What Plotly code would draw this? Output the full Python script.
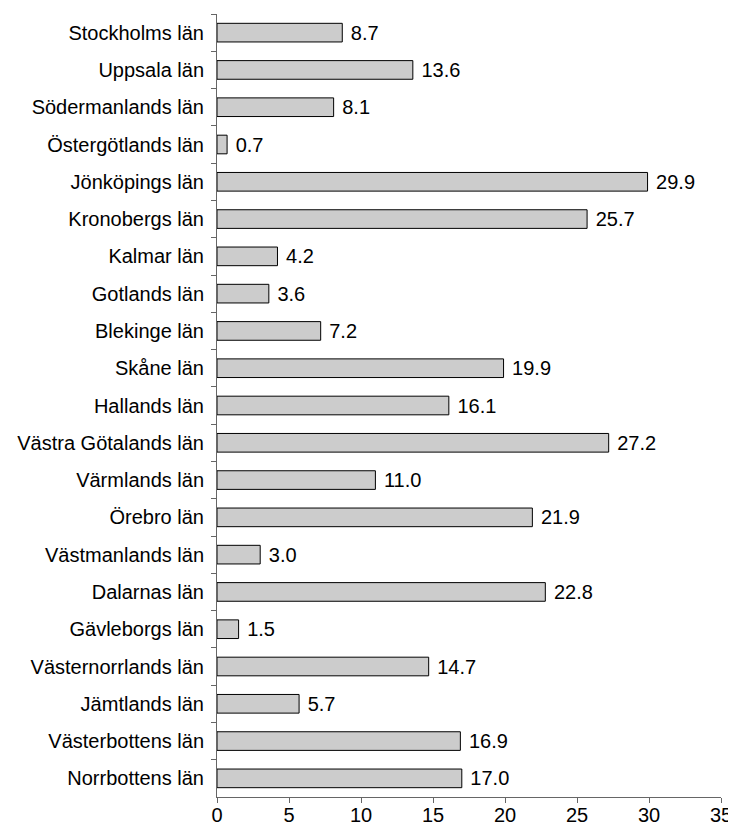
import plotly.graph_objects as go

counties = [
    "Stockholms län", "Uppsala län", "Södermanlands län", "Östergötlands län",
    "Jönköpings län", "Kronobergs län", "Kalmar län", "Gotlands län",
    "Blekinge län", "Skåne län", "Hallands län", "Västra Götalands län",
    "Värmlands län", "Örebro län", "Västmanlands län", "Dalarnas län",
    "Gävleborgs län", "Västernorrlands län", "Jämtlands län",
    "Västerbottens län", "Norrbottens län",
]
values = [
    8.7, 13.6, 8.1, 0.7, 29.9, 25.7, 4.2, 3.6, 7.2, 19.9, 16.1,
    27.2, 11.0, 21.9, 3.0, 22.8, 1.5, 14.7, 5.7, 16.9, 17.0,
]

font = "Liberation Sans, Arial, sans-serif"

fig = go.Figure(
    go.Bar(
        x=values, y=counties, orientation="h",
        marker={"color": "#cccccc", "line": {"color": "#000000", "width": 1}},
        text=values, texttemplate=" %{x:.1f}", textposition="outside",
        textfont={"size": 20, "color": "#000000", "family": font},
        constraintext="none", cliponaxis=False,
    )
)
# the page body adds an 8px offset, so size and margins are set to compensate
fig.update_layout(
    width=728, height=817,
    margin={"l": 209, "r": 15, "t": 6, "b": 28},
    plot_bgcolor="white", paper_bgcolor="white",
    bargap=0.5, showlegend=False,
    font={"family": font, "size": 20, "color": "#000000"},
)
fig.update_xaxes(
    range=[0, 35], dtick=5, ticks="outside", ticklen=5, tickcolor="#666",
    showline=True, linecolor="#666", showgrid=False, zeroline=False,
    automargin=False, ticklabelstandoff=-5,
)
fig.update_yaxes(
    autorange="reversed", tickson="boundaries", ticks="outside", ticklen=5,
    tickcolor="#666", showline=True, linecolor="#666", showgrid=False,
    automargin=False, ticklabelstandoff=8,
)
fig.write_html("out.html")
